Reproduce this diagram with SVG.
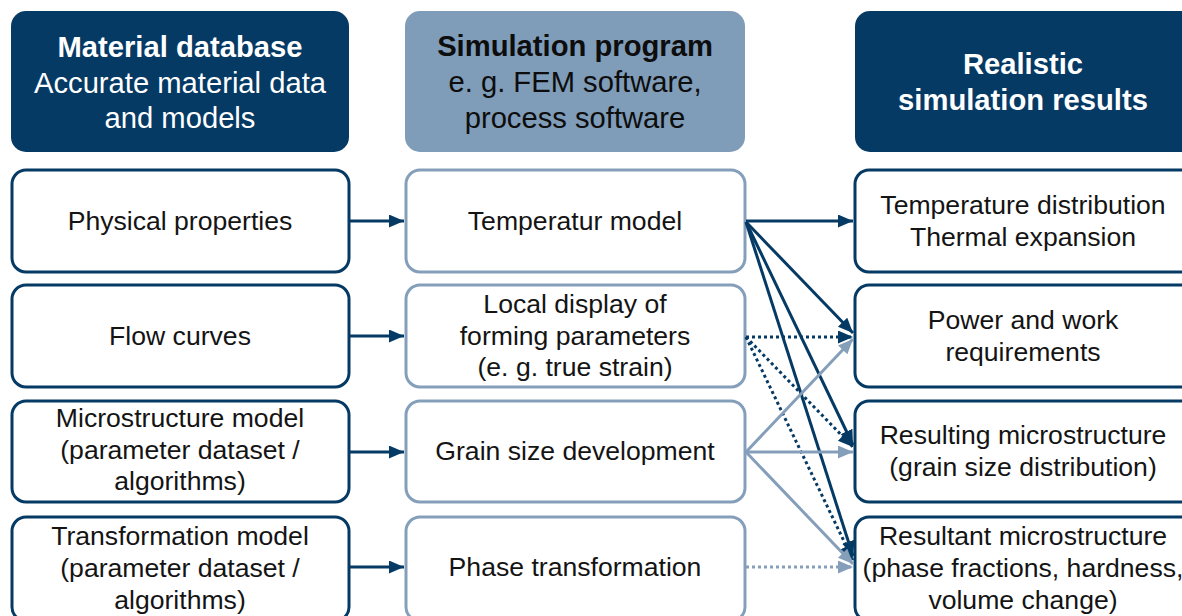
<svg xmlns="http://www.w3.org/2000/svg" width="1182" height="616" viewBox="0 0 1182 616">
  <style>
    .hdr-dark { fill: #053a65; }
    .hdr-light { fill: #7f9cb8; }
    .box-dark { fill: #ffffff; stroke: #053a65; stroke-width: 3; }
    .box-light { fill: #ffffff; stroke: #859fbb; stroke-width: 3; }
    text { font-family: "Liberation Sans", Arial, sans-serif; text-anchor: middle; }
    .ht { font-size: 29.2px; }
    .hb { font-weight: bold; }
    .white { fill: #ffffff; }
    .black { fill: #0d0d0d; }
    .bt { font-size: 26.6px; fill: #141414; }
    .c-dark { stroke: #053a65; stroke-width: 3; fill: none; }
    .c-light { stroke: #859fbb; stroke-width: 3; fill: none; }
    .dot { stroke-dasharray: 3 3; }
  </style>
  <defs>
    <marker id="ah-dark" markerUnits="userSpaceOnUse" markerWidth="16" markerHeight="14" refX="15" refY="6.5" orient="auto">
      <path d="M0,0 L15,6.5 L0,13 z" fill="#053a65"/>
    </marker>
    <marker id="ah-light" markerUnits="userSpaceOnUse" markerWidth="16" markerHeight="14" refX="15" refY="6.5" orient="auto">
      <path d="M0,0 L15,6.5 L0,13 z" fill="#859fbb"/>
    </marker>
  </defs>

  <!-- column headers -->
  <g id="hdr-material">
    <rect class="hdr-dark" x="11" y="11" width="338" height="141" rx="15"/>
    <text class="ht hb white" x="180" y="57">Material database</text>
    <text class="ht white" x="180" y="92.5">Accurate material data</text>
    <text class="ht white" x="180" y="128">and models</text>
  </g>
  <g id="hdr-simulation">
    <rect class="hdr-light" x="405" y="11" width="340" height="141" rx="15"/>
    <text class="ht hb black" x="575" y="56">Simulation program</text>
    <text class="ht black" x="575" y="92">e. g. FEM software,</text>
    <text class="ht black" x="575" y="128">process software</text>
  </g>
  <g id="hdr-results">
    <rect class="hdr-dark" x="855" y="11" width="340" height="141" rx="15"/>
    <text class="ht hb white" x="1023" y="74">Realistic</text>
    <text class="ht hb white" x="1023" y="110">simulation results</text>
  </g>

  <!-- material database column -->
  <g id="physical-properties">
    <rect class="box-dark" x="12" y="170" width="337" height="102" rx="14"/>
    <text class="bt" x="180" y="230">Physical properties</text>
  </g>
  <g id="flow-curves">
    <rect class="box-dark" x="12" y="285" width="337" height="102" rx="14"/>
    <text class="bt" x="180" y="345">Flow curves</text>
  </g>
  <g id="microstructure-model">
    <rect class="box-dark" x="12" y="401" width="337" height="101" rx="14"/>
    <text class="bt" x="180" y="427">Microstructure model</text>
    <text class="bt" x="180" y="458.5">(parameter dataset /</text>
    <text class="bt" x="180" y="490">algorithms)</text>
  </g>
  <g id="transformation-model">
    <rect class="box-dark" x="12" y="517" width="337" height="104" rx="14"/>
    <text class="bt" x="180" y="545">Transformation model</text>
    <text class="bt" x="180" y="577">(parameter dataset /</text>
    <text class="bt" x="180" y="609">algorithms)</text>
  </g>

  <!-- simulation program column -->
  <g id="temperatur-model">
    <rect class="box-light" x="406" y="170" width="339" height="102" rx="14"/>
    <text class="bt" x="575" y="230">Temperatur model</text>
  </g>
  <g id="forming-parameters">
    <rect class="box-light" x="406" y="285" width="339" height="102" rx="14"/>
    <text class="bt" x="575" y="313">Local display of</text>
    <text class="bt" x="575" y="344.5">forming parameters</text>
    <text class="bt" x="575" y="376">(e. g. true strain)</text>
  </g>
  <g id="grain-size">
    <rect class="box-light" x="406" y="401" width="339" height="101" rx="14"/>
    <text class="bt" x="575" y="460">Grain size development</text>
  </g>
  <g id="phase-transformation">
    <rect class="box-light" x="406" y="517" width="339" height="104" rx="14"/>
    <text class="bt" x="575" y="576">Phase transformation</text>
  </g>

  <!-- results column -->
  <g id="temperature-distribution">
    <rect class="box-dark" x="855" y="170" width="340" height="102" rx="14"/>
    <text class="bt" x="1023" y="214">Temperature distribution</text>
    <text class="bt" x="1023" y="246">Thermal expansion</text>
  </g>
  <g id="power-work">
    <rect class="box-dark" x="855" y="285" width="340" height="102" rx="14"/>
    <text class="bt" x="1023" y="329">Power and work</text>
    <text class="bt" x="1023" y="361">requirements</text>
  </g>
  <g id="resulting-microstructure">
    <rect class="box-dark" x="855" y="401" width="340" height="101" rx="14"/>
    <text class="bt" x="1023" y="444">Resulting microstructure</text>
    <text class="bt" x="1023" y="476">(grain size distribution)</text>
  </g>
  <g id="resultant-microstructure">
    <rect class="box-dark" x="855" y="517" width="340" height="104" rx="14"/>
    <text class="bt" x="1023" y="545">Resultant microstructure</text>
    <text class="bt" x="1023" y="577">(phase fractions, hardness,</text>
    <text class="bt" x="1023" y="609">volume change)</text>
  </g>

  <!-- connectors -->
  <g id="connectors">
    <!-- database to simulation -->
    <line class="c-dark" x1="350" y1="221" x2="404" y2="221" marker-end="url(#ah-dark)"/>
    <line class="c-dark" x1="350" y1="336" x2="404" y2="336" marker-end="url(#ah-dark)"/>
    <line class="c-dark" x1="350" y1="452" x2="404" y2="452" marker-end="url(#ah-dark)"/>
    <line class="c-dark" x1="350" y1="567" x2="404" y2="567" marker-end="url(#ah-dark)"/>

    <!-- temperature model outputs -->
    <line class="c-dark" x1="746" y1="221" x2="853" y2="221" marker-end="url(#ah-dark)"/>
    <line class="c-dark" x1="746" y1="222" x2="853" y2="333" marker-end="url(#ah-dark)"/>
    <line class="c-dark" x1="746" y1="222" x2="853" y2="445" marker-end="url(#ah-dark)"/>
    <line class="c-dark" x1="746" y1="222" x2="853" y2="556" marker-end="url(#ah-dark)"/>

    <!-- forming parameter outputs -->
    <line class="c-dark dot" x1="746" y1="337" x2="853" y2="337" marker-end="url(#ah-dark)"/>
    <line class="c-dark dot" x1="746" y1="337" x2="853" y2="447" marker-end="url(#ah-dark)"/>
    <line class="c-dark dot" x1="746" y1="337" x2="853" y2="560" marker-end="url(#ah-dark)"/>

    <!-- grain size outputs -->
    <line class="c-light" x1="746" y1="452" x2="853" y2="339" marker-end="url(#ah-light)"/>
    <line class="c-light" x1="746" y1="452" x2="853" y2="452" marker-end="url(#ah-light)"/>
    <line class="c-light" x1="746" y1="452" x2="853" y2="564" marker-end="url(#ah-light)"/>

    <!-- phase transformation output -->
    <line class="c-light dot" x1="746" y1="567" x2="853" y2="567" marker-end="url(#ah-light)"/>
  </g>
</svg>
